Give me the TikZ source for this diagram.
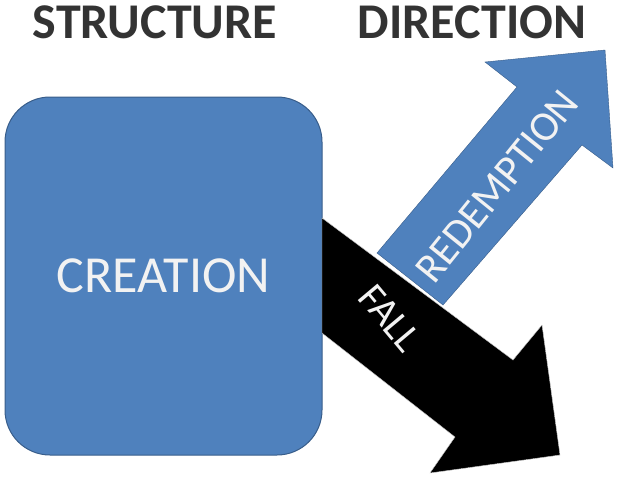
\documentclass[tikz,border=0pt]{standalone}
\usepackage{fontspec}
\setmainfont{Carlito}
\definecolor{boxBlue}{RGB}{79, 129, 189}
\definecolor{edgeBlue}{RGB}{56, 93, 138}
\usetikzlibrary{positioning,calc}
\tikzset{
  title/.style={font=\fontsize{50}{50}\selectfont\bfseries,text=black!80},
  label/.style={font=\fontsize{#1}{#1}\selectfont,text=white!95!black},
}
\begin{document}
\begin{tikzpicture}[x=1pt,y=-1pt]
                \useasboundingbox (0,0) rectangle (640,480);
                % Titles
                \node[title] (structure) at (155,22) {STRUCTURE};
                \node[title] (direction) at (472,22) {DIRECTION};

                % Creation box
                \node[draw=edgeBlue,fill=boxBlue,rounded corners=45pt,
                      minimum width=317pt,minimum height=358pt,line width=1pt,
                      label=52] (creation) at (163.5,276) {CREATION};

                % Redemption arrow
                \draw[edgeBlue,fill=boxBlue] (377,253) -- (517,87) -- (485,62)
                    -- (605,50) -- (613,168) -- (582,145) -- (443,305) -- cycle;
                \node[label=42,rotate=51] (redemption) at (497,186) {REDEMPTION};

                % Fall arrow
                \draw[white!80!black,fill=black] (322,218) -- (513,360) -- (542,325)
                    -- (560,455) -- (430,473) -- (455,437) -- (322,333) -- cycle;
                \node[label=40,rotate=-50] (fall) at (390,318) {FALL};
\end{tikzpicture}
\end{document}
